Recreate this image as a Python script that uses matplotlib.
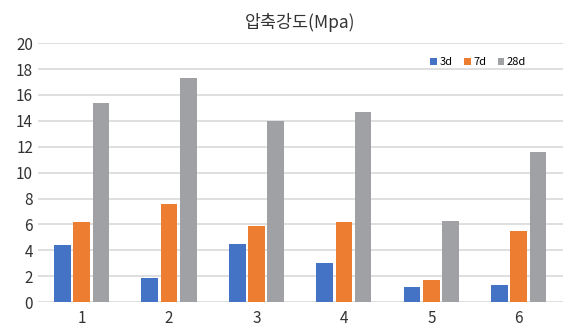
import matplotlib
matplotlib.use('Agg')
import matplotlib.pyplot as plt
import numpy as np

plt.rcParams['font.family'] = ['Noto Sans CJK KR', 'DejaVu Sans']

# data
groups = ['1', '2', '3', '4', '5', '6']
d3 = [4.4, 1.9, 4.5, 3.0, 1.2, 1.3]
d7 = [6.2, 7.6, 5.9, 6.2, 1.7, 5.5]
d28 = [15.4, 17.3, 14.0, 14.7, 6.3, 11.6]
series_names = ['3d', '7d', '28d']
colors = ['#4472C4', '#ED7D31', '#A0A1A4']

fig = plt.figure(figsize=(5.74, 3.32), dpi=100)
fig.patch.set_facecolor('w')
ax = fig.add_axes([0.066, 0.090, 0.914, 0.780])

x = np.arange(len(groups))
w = 0.19
step = 0.22
for i, (vals, name, c) in enumerate(zip([d3, d7, d28], series_names, colors)):
    ax.bar(x + (i - 1) * step, vals, width=w, color=c, label=name, zorder=3)

ax.set_ylim(0, 20)
ax.set_yticks(range(0, 21, 2))
ax.set_xlim(-0.5, len(groups) - 0.5)
ax.set_xticks(x)
ax.set_xticklabels(groups)
ax.yaxis.grid(True, color='#D9D9D9', linewidth=1.2, zorder=0)
for s in ax.spines.values():
    s.set_visible(False)
ax.tick_params(axis='both', length=0, labelsize=11, colors='#333333')
ax.tick_params(axis='x', pad=6)

ax.set_title('압축강도(Mpa)', fontsize=12.5, color='#333333', pad=11, fontweight='medium')

ax.legend(loc='upper right', bbox_to_anchor=(0.95, 0.985), ncol=3, frameon=False,
          fontsize=8, handlelength=0.6, handleheight=0.6, handletextpad=0.25,
          columnspacing=1.0)

fig.savefig('out.png', dpi=100)
